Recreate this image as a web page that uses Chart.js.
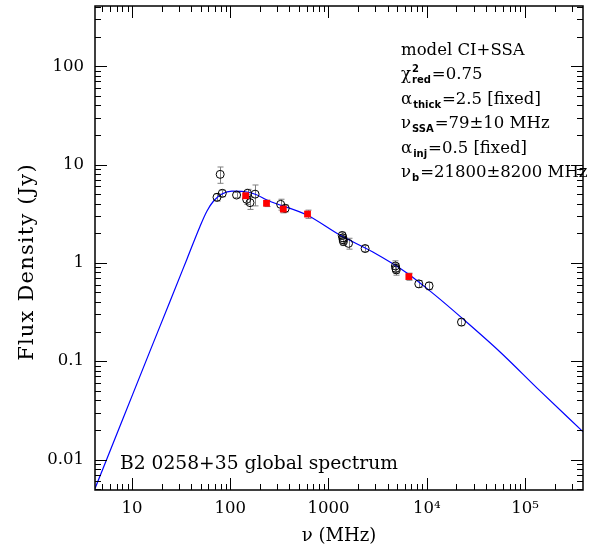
<!DOCTYPE html>
<html><head><meta charset="utf-8">
<script src="https://cdn.jsdelivr.net/npm/chart.js@4.4.1/dist/chart.umd.min.js"></script>
<style>html,body{margin:0;padding:0;background:#fff;} #wrap{width:596px;height:552px;}</style>
</head><body><div id="wrap"><canvas id="c" width="596" height="552"></canvas></div>
<script>
// ---- axis ticks ----
const xTickValues = [10, 100, 1000, 10000, 100000];
const xTickLabels = ['10', '100', '1000', '10\u2074', '10\u2075'];
const yTickValues = [0.01, 0.1, 1, 10, 100];
const yTickLabels = ['0.01', '0.1', '1', '10', '100'];
const xRange = [4.2, 390000];
const yRange = [0.0049, 410];

// ---- open circles (literature flux densities), MHz / Jy ----
const circleFreq = [73.3, 79, 83, 116, 147, 150, 159, 179, 326, 363, 1380, 1400, 1410, 1420, 1600, 2360, 4800, 4850, 4900, 8310, 10570, 22600];
const circleFlux = [4.65, 7.95, 5.1, 4.9, 4.43, 5.1, 4.1, 5.0, 3.94, 3.59, 1.9, 1.8, 1.72, 1.65, 1.58, 1.40, 0.93, 0.88, 0.85, 0.612, 0.584, 0.25];
const circleErr  = [0.4, 1.5, 0.4, 0.3, 0.5, 0.5, 0.6, 1.2, 0.5, 0.3, 0.15, 0.15, 0.15, 0.15, 0.2, 0.1, 0.12, 0.1, 0.1, 0.05, 0.05, 0.02];

// ---- red squares ----
const squareFreq = [143.5, 234, 347, 612, 6580];
const squareFlux = [4.82, 4.04, 3.53, 3.14, 0.726];
const squareErr  = [0.3, 0.3, 0.3, 0.3, 0.06];

// ---- model curve (CI+SSA) ----
const modelFreq = [4.2, 7.55, 15.2, 24.4, 36.3, 49.2, 58.0, 68.3, 82.3, 104, 137.7, 182.4, 236, 603, 1306, 2830, 6280, 12080, 22750, 55500, 141600, 389000];
const modelFlux = [0.00508, 0.0219, 0.126, 0.407, 1.098, 2.35, 3.37, 4.31, 5.02, 5.38, 5.32, 4.96, 4.36, 3.07, 1.92, 1.29, 0.791, 0.473, 0.276, 0.125, 0.0502, 0.0192];

// ---- texts ----
const yTitle = 'Flux Density (Jy)';
const xTitle = '\u03bd (MHz)';
const sourceLabel = 'B2 0258+35 global spectrum';
const fitLines = [
  [{t: 'model CI+SSA'}],
  [{t: '\u03c7'}, {sup: '2', sub: 'red'}, {t: '=0.75'}],
  [{t: '\u03b1'}, {sub: 'thick'}, {t: '=2.5 [fixed]'}],
  [{t: '\u03bd'}, {sub: 'SSA'}, {t: '=79\u00b110 MHz'}],
  [{t: '\u03b1'}, {sub: 'inj'}, {t: '=0.5 [fixed]'}],
  [{t: '\u03bd'}, {sub: 'b'}, {t: '=21800\u00b18200 MHz'}]
];

const FONT = "'DejaVu Serif', serif";
const SUBFONT = "bold 10px 'DejaVu Sans', sans-serif";

function pts(xs, ys) { return xs.map((x, i) => ({x: x, y: ys[i]})); }

const errorBars = {
  id: 'errorBars',
  beforeDatasetsDraw(chart) {
    const ctx = chart.ctx, xs = chart.scales.x, ys = chart.scales.y;
    ctx.save();
    ctx.strokeStyle = '#808080';
    ctx.lineWidth = 1;
    const sets = [[circleFreq, circleFlux, circleErr], [squareFreq, squareFlux, squareErr]];
    sets.forEach(([f, s, e]) => {
      f.forEach((v, i) => {
        const px = Math.round(xs.getPixelForValue(v)) + 0.5;
        const y1 = ys.getPixelForValue(s[i] + e[i]);
        const y2 = ys.getPixelForValue(Math.max(s[i] - e[i], 1e-4));
        ctx.beginPath();
        ctx.moveTo(px, y1); ctx.lineTo(px, y2);
        ctx.moveTo(px - 3, y1); ctx.lineTo(px + 3, y1);
        ctx.moveTo(px - 3, y2); ctx.lineTo(px + 3, y2);
        ctx.stroke();
      });
    });
    ctx.restore();
  }
};

const frame = {
  id: 'frame',
  afterDraw(chart) {
    const ctx = chart.ctx, a = chart.chartArea, xs = chart.scales.x, ys = chart.scales.y;
    ctx.save();
    ctx.strokeStyle = '#000';
    ctx.lineWidth = 1;
    for (let d = -3; d <= 6; d++) {
      for (let m = 1; m <= 9; m++) {
        const v = m * Math.pow(10, d);
        const len = m === 1 ? 12 : 6;
        if (v >= xs.min && v <= xs.max) {
          const px = Math.round(xs.getPixelForValue(v)) + 0.5;
          ctx.beginPath();
          ctx.moveTo(px, a.bottom); ctx.lineTo(px, a.bottom - len);
          ctx.moveTo(px, a.top); ctx.lineTo(px, a.top + len);
          ctx.stroke();
        }
        if (v >= ys.min && v <= ys.max) {
          const py = Math.round(ys.getPixelForValue(v)) + 0.5;
          ctx.beginPath();
          ctx.moveTo(a.left, py); ctx.lineTo(a.left + len, py);
          ctx.moveTo(a.right, py); ctx.lineTo(a.right - len, py);
          ctx.stroke();
        }
      }
    }
    ctx.lineWidth = 1.5;
    ctx.strokeRect(a.left, a.top, a.right - a.left, a.bottom - a.top);

    // annotation block
    ctx.fillStyle = '#000';
    ctx.textBaseline = 'alphabetic';
    ctx.textAlign = 'left';
    const x0 = a.left + 306, y0 = a.top + 49, dy = 24.4;
    fitLines.forEach((line, li) => {
      let x = x0;
      const y = y0 + li * dy;
      line.forEach(seg => {
        if (seg.t !== undefined) {
          ctx.font = "16.5px " + FONT;
          ctx.fillText(seg.t, x, y);
          x += ctx.measureText(seg.t).width;
        } else {
          ctx.font = SUBFONT;
          let w = 0;
          if (seg.sup) { ctx.fillText(seg.sup, x + 1, y - 7); w = ctx.measureText(seg.sup).width + 1; }
          if (seg.sub) { ctx.fillText(seg.sub, x + 1, y + 4); w = Math.max(w, ctx.measureText(seg.sub).width + 1); }
          x += w + 1;
        }
      });
    });
    ctx.font = "18.7px " + FONT;
    ctx.fillText(sourceLabel, a.left + 25, a.bottom - 21);

    // y-axis title
    ctx.save();
    ctx.translate(28, 262);
    ctx.rotate(-Math.PI / 2);
    ctx.font = "21px " + FONT;
    if ('letterSpacing' in ctx) ctx.letterSpacing = '1.2px';
    ctx.textAlign = 'center';
    ctx.textBaseline = 'middle';
    ctx.fillText(yTitle, 0, 0);
    ctx.restore();
    ctx.restore();
  }
};

new Chart(document.getElementById('c'), {
  type: 'scatter',
  data: {
    datasets: [
      {
        label: 'new',
        data: pts(squareFreq, squareFlux),
        pointStyle: 'rect',
        pointRadius: 4.8,
        backgroundColor: '#ff0000',
        borderColor: '#ff0000',
        borderWidth: 0
      },
      {
        label: 'literature',
        data: pts(circleFreq, circleFlux),
        pointStyle: 'circle',
        pointRadius: 4,
        backgroundColor: 'rgba(0,0,0,0)',
        borderColor: '#000',
        borderWidth: 1
      },
      {
        label: 'model',
        data: pts(modelFreq, modelFlux),
        showLine: true,
        pointRadius: 0,
        borderColor: '#0000ff',
        borderWidth: 1.2,
        cubicInterpolationMode: 'monotone',
        fill: false
      }
    ]
  },
  options: {
    responsive: false,
    animation: false,
    devicePixelRatio: 1,
    layout: {padding: {top: 6, right: 13, left: 0, bottom: 0}},
    plugins: {legend: {display: false}, tooltip: {enabled: false}},
    scales: {
      x: {
        type: 'logarithmic',
        position: 'bottom',
        min: xRange[0], max: xRange[1],
        afterBuildTicks: s => { s.ticks = xTickValues.map(v => ({value: v})); },
        afterFit: s => { s.height = 62; s.paddingLeft = 0; s.paddingRight = 0; },
        ticks: {
          autoSkip: false, maxRotation: 0, color: '#000', padding: 9,
          font: {family: FONT, size: 16.5},
          callback: v => xTickLabels[xTickValues.indexOf(v)]
        },
        grid: {display: false, drawTicks: false},
        border: {display: false},
        title: {display: true, text: xTitle, color: '#000', font: {family: FONT, size: 18}, padding: {top: 0, bottom: 5}}
      },
      y: {
        type: 'logarithmic',
        position: 'left',
        min: yRange[0], max: yRange[1],
        afterBuildTicks: s => { s.ticks = yTickValues.map(v => ({value: v})); },
        afterFit: s => { s.width = 95; s.paddingTop = 0; s.paddingBottom = 0; },
        ticks: {
          autoSkip: false, color: '#000', padding: 11,
          font: {family: FONT, size: 16.5},
          callback: v => yTickLabels[yTickValues.indexOf(v)]
        },
        grid: {display: false, drawTicks: false},
        border: {display: false},
        title: {display: false}
      }
    }
  },
  plugins: [errorBars, frame]
});
</script>
</body></html>
